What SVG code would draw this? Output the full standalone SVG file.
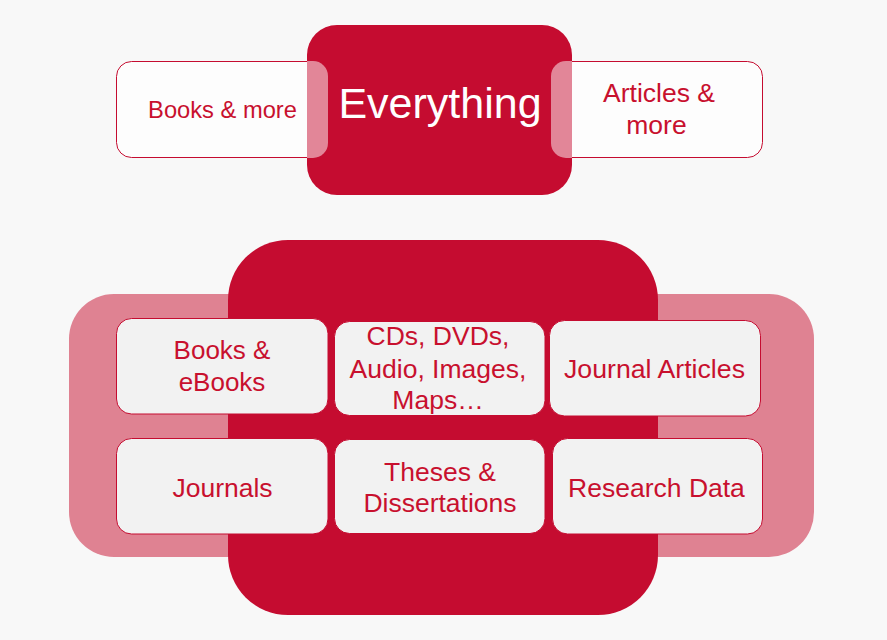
<svg xmlns="http://www.w3.org/2000/svg" width="887" height="640" viewBox="0 0 887 640">
  <style>
    .red { fill: #c50c30; }
    .pink { fill: #df8292; }
    .tab { fill: #fdfdfd; stroke: #c50c30; stroke-width: 1; }
    .veil { fill: #ffffff; fill-opacity: 0.5; }
    .cell { fill: #f2f2f2; stroke: #c50c30; stroke-width: 1; }
    .lbl { font-family: "Liberation Sans", Arial, sans-serif; fill: #c8102e; text-anchor: middle; }
    .big { font-family: "Liberation Sans", Arial, sans-serif; fill: #ffffff; text-anchor: middle; }
  </style>
  <defs>
    <clipPath id="topClip">
      <rect x="307" y="25" width="265" height="170" rx="30"/>
    </clipPath>
  </defs>
  <rect width="887" height="640" fill="#f8f8f8"/>

  <!-- top row: two side tabs behind the central block -->
  <g id="books-more">
    <rect class="tab" x="116.5" y="61.5" width="212" height="96" rx="15"/>
    <text class="lbl" x="222.5" y="118" font-size="23.7">Books &amp; more</text>
  </g>
  <g id="articles-more">
    <rect class="tab" x="551.5" y="61.5" width="211" height="96" rx="15"/>
    <text class="lbl" font-size="26.5"><tspan x="659" y="102">Articles &amp;</tspan><tspan x="656.5" y="134">more</tspan></text>
  </g>
  <g id="everything">
    <rect class="red" x="307" y="25" width="265" height="170" rx="30"/>
    <g clip-path="url(#topClip)">
      <rect class="veil" x="116" y="61" width="212" height="97" rx="15"/>
      <rect class="veil" x="551" y="61" width="212" height="97" rx="15"/>
    </g>
    <text class="big" x="440" y="118" font-size="43">Everything</text>
  </g>

  <!-- bottom: layered backdrop -->
  <g id="backdrop">
    <rect class="pink" x="69" y="294" width="745" height="263" rx="45"/>
    <rect class="red" x="228" y="240" width="430" height="375" rx="60"/>
  </g>

  <g id="books-ebooks">
    <rect class="cell" x="116.5" y="318.5" width="211.5" height="95.5" rx="15"/>
    <text class="lbl" font-size="26"><tspan x="222" y="359">Books &amp;</tspan><tspan x="222" y="391">eBooks</tspan></text>
  </g>
  <g id="cds-dvds">
    <rect class="cell" x="334.5" y="321.5" width="210.5" height="94" rx="15"/>
    <text class="lbl" font-size="26.5"><tspan x="438" y="345">CDs, DVDs,</tspan><tspan x="438" y="378">Audio, Images,</tspan><tspan x="438" y="409">Maps…</tspan></text>
  </g>
  <g id="journal-articles">
    <rect class="cell" x="549.5" y="320.5" width="211" height="95.5" rx="15"/>
    <text class="lbl" x="654.5" y="378" font-size="26.7">Journal Articles</text>
  </g>
  <g id="journals">
    <rect class="cell" x="116.5" y="438.5" width="211.5" height="95.5" rx="15"/>
    <text class="lbl" x="222.5" y="497" font-size="26.5">Journals</text>
  </g>
  <g id="theses">
    <rect class="cell" x="334.5" y="439.5" width="210.5" height="94" rx="15"/>
    <text class="lbl" font-size="26.5"><tspan x="440" y="481">Theses &amp;</tspan><tspan x="440" y="512">Dissertations</tspan></text>
  </g>
  <g id="research-data">
    <rect class="cell" x="552.5" y="438.5" width="210" height="95.5" rx="15"/>
    <text class="lbl" x="656.5" y="497" font-size="26.5">Research Data</text>
  </g>

  <g id="connectors"></g>
</svg>
